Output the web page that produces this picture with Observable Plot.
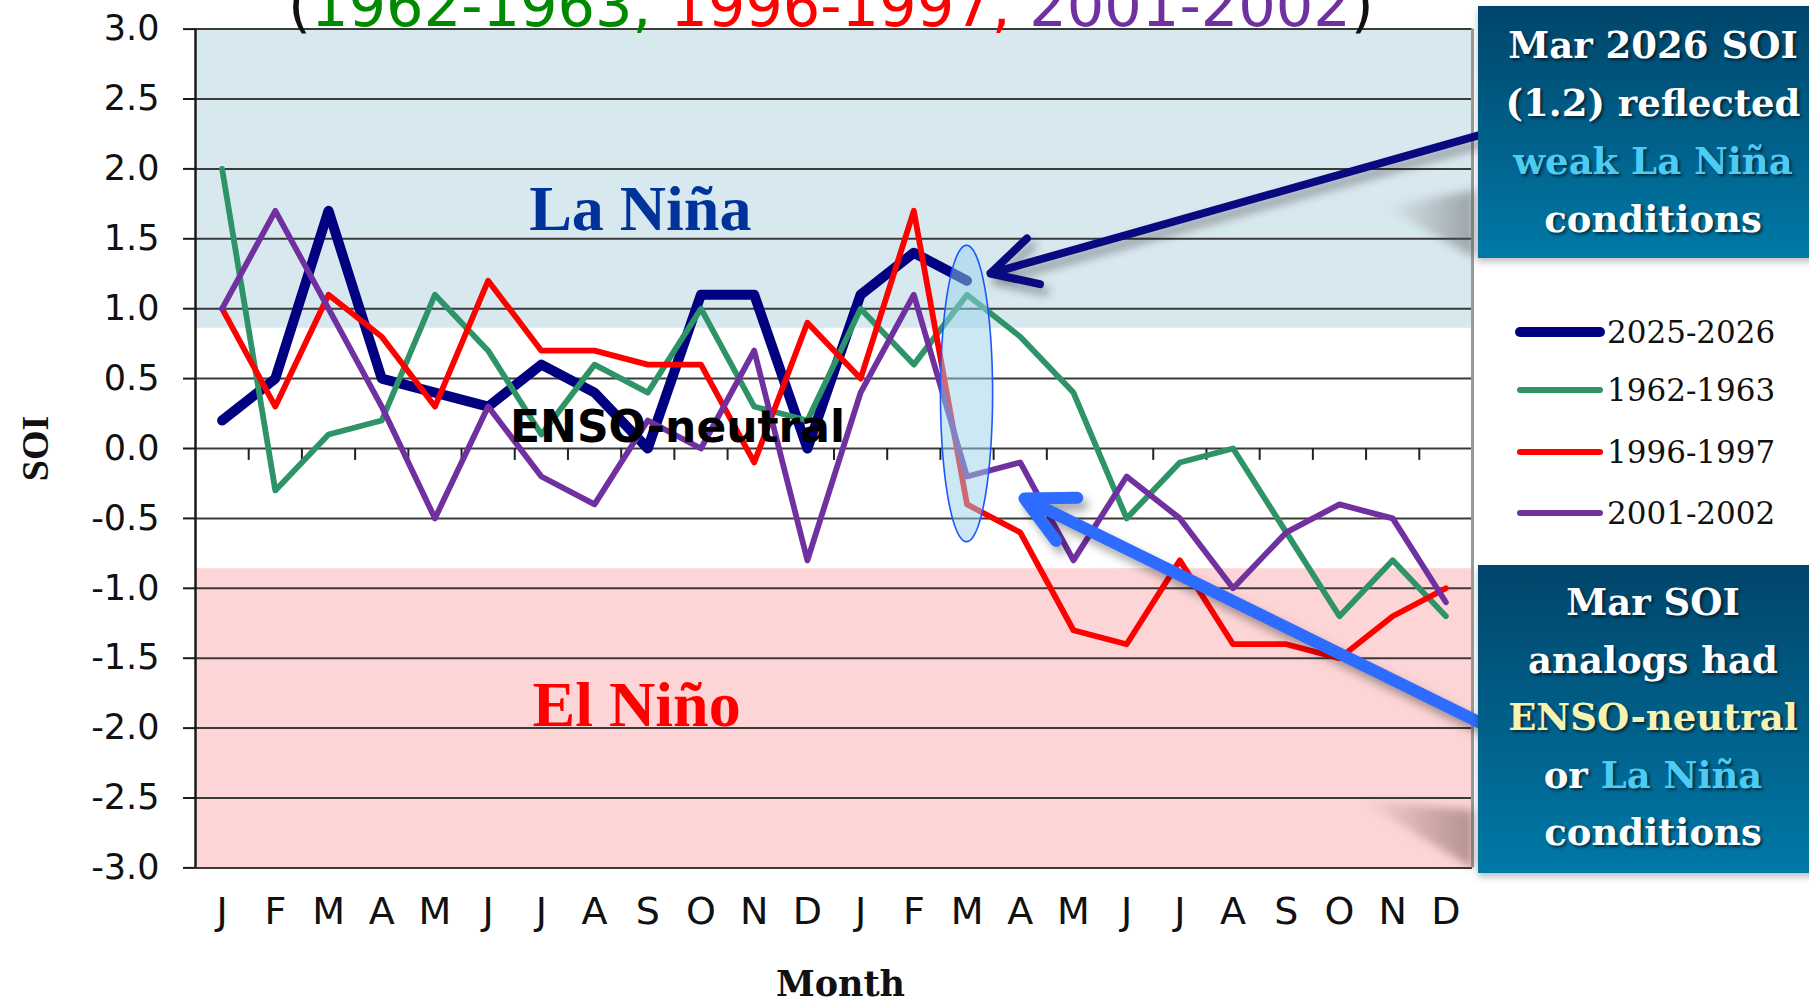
<!DOCTYPE html>
<html>
<head>
<meta charset="utf-8">
<script src="https://cdn.jsdelivr.net/npm/d3@7"></script>
<script src="https://cdn.jsdelivr.net/npm/@observablehq/plot@0.6"></script>
<style>
  html, body { margin: 0; padding: 0; background: #fff; }
  #wrap { position: relative; width: 1809px; height: 1004px; overflow: hidden; background: #fff; }
  #chart { position: absolute; left: 0; top: 0; }
  .title { position: absolute; left: 288px; top: -24px; font: 59px "DejaVu Sans", sans-serif; line-height: 59px; white-space: nowrap; }
  .box { position: absolute; left: 1478px; width: 350px; color: #fff; font: bold 37px "DejaVu Serif", serif;
         text-align: center; text-shadow: 2px 2px 3px rgba(0,0,0,0.6); box-shadow: 0 4px 7px rgba(0,0,0,0.25);
         background: linear-gradient(#00456a, #0079a7); }
  .box div { white-space: nowrap; }
  .lb { color: #4cccf4; }
  .ye { color: #f6f2b4; }
  .legend { position: absolute; left: 1512px; top: 300px; font: 31px "DejaVu Serif", serif; color: #111; }
  .legend .row { position: absolute; left: 0; height: 40px; white-space: nowrap; }
  .legend svg { position: absolute; left: 0; top: 0; }
  .legend span { position: absolute; left: 95px; top: 0; line-height: 40px; }
  .shadow { position: absolute; filter: blur(5px); }
  .shadow div { width: 100%; height: 100%; }
</style>
</head>
<body>
<div id="wrap">
  <div id="chart"></div>
  <div class="shadow" style="left:1385px;top:190px;width:90px;height:68px;">
    <div style="clip-path:polygon(0 25%,100% 0,100% 100%);background:linear-gradient(to right,rgba(80,80,80,0),rgba(80,80,80,0.45));"></div>
  </div>
  <div class="shadow" style="left:1360px;top:800px;width:113px;height:68px;">
    <div style="clip-path:polygon(0 0,100% 15%,100% 100%);background:linear-gradient(to right,rgba(90,60,60,0),rgba(90,60,60,0.45));"></div>
  </div>
  <div class="title"><span style="color:#111">(</span><span style="color:#008a00">1962-1963, </span><span style="color:#ff0000">1996-1997, </span><span style="color:#7030a0">2001-2002</span><span style="color:#111">)</span></div>
  <div class="box" style="top:6px;height:252px;padding-top:10px;box-sizing:border-box;line-height:58px;">
    <div>Mar 2026 SOI</div>
    <div>(1.2) reflected</div>
    <div class="lb">weak La Niña</div>
    <div>conditions</div>
  </div>
  <div class="legend" id="legend"></div>
  <div class="box" style="top:565px;height:308px;padding-top:9px;box-sizing:border-box;line-height:57.5px;">
    <div>Mar SOI</div>
    <div>analogs had</div>
    <div class="ye">ENSO-neutral</div>
    <div>or <span class="lb">La Niña</span></div>
    <div>conditions</div>
  </div>
</div>
<script>
// ---------- data ----------
const months = ["J","F","M","A","M","J","J","A","S","O","N","D","J","F","M","A","M","J","J","A","S","O","N","D"];
const yTicks = [-3.0,-2.5,-2.0,-1.5,-1.0,-0.5,0.0,0.5,1.0,1.5,2.0,2.5,3.0];
const seriesNames = ["2025-2026","1962-1963","1996-1997","2001-2002"];
const soi_2025_2026 = [0.2,0.5,1.7,0.5,0.4,0.3,0.6,0.4,0.0,1.1,1.1,0.0,1.1,1.4,1.2];
const soi_1962_1963 = [2.0,-0.3,0.1,0.2,1.1,0.7,0.1,0.6,0.4,1.0,0.3,0.2,1.0,0.6,1.1,0.8,0.4,-0.5,-0.1,0.0,-0.6,-1.2,-0.8,-1.2];
const soi_1996_1997 = [1.0,0.3,1.1,0.8,0.3,1.2,0.7,0.7,0.6,0.6,-0.1,0.9,0.5,1.7,-0.4,-0.6,-1.3,-1.4,-0.8,-1.4,-1.4,-1.5,-1.2,-1.0];
const soi_2001_2002 = [1.0,1.7,1.0,0.3,-0.5,0.3,-0.2,-0.4,0.2,0.0,0.7,-0.8,0.4,1.1,-0.2,-0.1,-0.8,-0.2,-0.5,-1.0,-0.6,-0.4,-0.5,-1.1];
const laNinaBand = [0.86, 3.0];
const elNinoBand = [-3.0, -0.86];
// highlighted month (Mar of 2nd year) and the SOI range the ellipse covers
const highlightMonth = 14;
const highlightRange = [-0.67, 1.45];

// ---------- derived tables ----------
const toRows = (vals) => vals.map((v, i) => ({i, v}));
const seriesVals = [soi_2025_2026, soi_1962_1963, soi_1996_1997, soi_2001_2002];
const colors = ["#000080", "#2e9467", "#ff0000", "#7030a0"];
const widths = [10, 5.8, 5.8, 5.8];

const cy = (highlightRange[0] + highlightRange[1]) / 2;
const ry = (highlightRange[1] - highlightRange[0]) / 2;
const rx = 0.49;
const ell = d3.range(0, 101).map(k => {
  const t = Math.PI * k / 100;
  const x = highlightMonth - rx * Math.cos(t);
  const h = ry * Math.sin(t);
  return {x, lo: cy - h, hi: cy + h};
});
const bands = [
  {x1: -0.5, x2: 23.5, y1: laNinaBand[0], y2: laNinaBand[1], fill: "#d8e8ef"},
  {x1: -0.5, x2: 23.5, y1: elNinoBand[0], y2: elNinoBand[1], fill: "#fdd5d6"}
];
const xTickRows = d3.range(1, 25).map(k => ({x: k - 0.5, y1: 0, y2: -0.085}));

// legend
const legend = document.getElementById("legend");
const rowTops = [12, 70, 132, 193];
seriesNames.forEach((name, k) => {
  const row = document.createElement("div");
  row.className = "row";
  row.style.top = rowTops[k] + "px";
  row.innerHTML = `<svg width="95" height="40"><line x1="8" x2="88" y1="20" y2="20" stroke="${colors[k]}" stroke-width="${k === 0 ? 10 : 6}" stroke-linecap="round"/></svg><span>${name}</span>`;
  legend.appendChild(row);
});

const marks = [
  Plot.rect(bands, {x1: "x1", x2: "x2", y1: "y1", y2: "y2", fill: d => d.fill}),
  Plot.ruleY(yTicks, {stroke: "#3a3a3a", strokeWidth: 2}),
  Plot.ruleX(xTickRows, {x: "x", y1: "y1", y2: "y2", stroke: "#222", strokeWidth: 2}),
  Plot.ruleX([23.5], {stroke: "#9a9a9a", strokeWidth: 3}),
  Plot.ruleX([-0.5], {stroke: "#1a1a1a", strokeWidth: 2.5}),
  Plot.axisY({ticks: yTicks, tickSize: 12, tickPadding: 24, tickFormat: d => d.toFixed(1),
    fontSize: 35, fontFamily: "DejaVu Sans", label: null, stroke: "#1a1a1a", strokeWidth: 2, color: "#111"}),
  Plot.axisX({ticks: d3.range(24), tickSize: 0, tickPadding: 29, tickFormat: i => months[i],
    fontSize: 38, fontFamily: "DejaVu Sans", label: null, color: "#111"}),
  Plot.text([{x: 7.86, y: 1.706, t: "La Niña"}], {x: "x", y: "y", text: "t", fontSize: 64, fontWeight: "bold",
    fontFamily: "Liberation Serif", fill: "#003399"}),
  Plot.text([{x: 7.79, y: -1.835, t: "El Niño"}], {x: "x", y: "y", text: "t", fontSize: 64, fontWeight: "bold",
    fontFamily: "Liberation Serif", fill: "#ff0000"}),
  ...seriesVals.map((vals, k) => Plot.line(toRows(vals), {x: "i", y: "v", stroke: colors[k],
    strokeWidth: widths[k], strokeLinejoin: "round", strokeLinecap: "round"})),
  Plot.text([{x: 8.56, y: 0.146, t: "ENSO-neutral"}], {x: "x", y: "y", text: "t", fontSize: 44, fontWeight: "bold",
    fontFamily: "DejaVu Sans", fill: "#000"}),
  Plot.areaY(ell, {x: "x", y1: "lo", y2: "hi", fill: "#98d2ea", fillOpacity: 0.5, stroke: "#1f55ff", strokeWidth: 1.6}),
  Plot.arrow([{x1: 24.03, y1: 2.285, x2: 14.44, y2: 1.252}], {x1: "x1", y1: "y1", x2: "x2", y2: "y2",
    stroke: "#0a0a80", strokeWidth: 8, headLength: 9.5, headAngle: 56, strokeLinecap: "round"}),
  Plot.arrow([{x1: 24.03, y1: -2.034, x2: 15.08, y2: -0.358}], {x1: "x1", y1: "y1", x2: "x2", y2: "y2",
    stroke: "#2e6cff", strokeWidth: 12, headLength: 6.6, headAngle: 54, strokeLinecap: "round"}),
  Plot.text(["SOI"], {frameAnchor: "left", dx: -160, rotate: -90, textAnchor: "middle", lineAnchor: "middle",
    text: d => d, fontSize: 38, fontWeight: "bold", fontFamily: "Liberation Serif", fill: "#111"}),
  Plot.text(["Month"], {frameAnchor: "bottom", dx: 6.5, dy: 128, text: d => d, fontSize: 35,
    fontWeight: "bold", fontFamily: "DejaVu Serif", fill: "#111"})
];

const plot = Plot.plot({
  width: 1809,
  height: 1004,
  marginLeft: 195,
  marginRight: 337,
  marginTop: 28.6,
  marginBottom: 136.6,
  x: {domain: [-0.5, 23.5]},
  y: {domain: [-3, 3]},
  style: {background: "transparent", overflow: "visible"},
  marks
});
document.getElementById("chart").appendChild(plot);
plot.querySelectorAll('g[aria-label="arrow"]').forEach(g => {
  g.style.filter = "drop-shadow(5px 7px 5px rgba(0,0,0,0.35))";
});
</script>
</body>
</html>
